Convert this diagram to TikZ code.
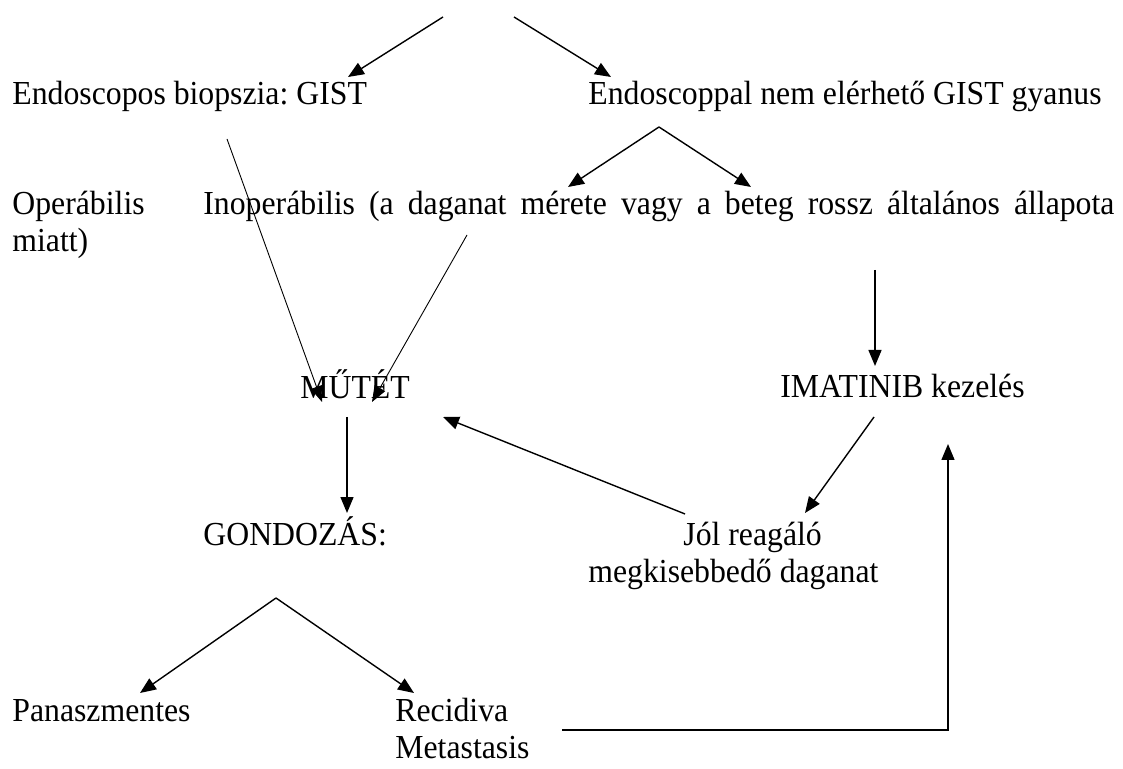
\documentclass[tikz,border=0pt]{standalone}
\usepackage{fontspec}
\setmainfont{Liberation Serif}[FakeStretch=0.945]
\usepackage{tikz}
\usetikzlibrary{arrows.meta}
\usetikzlibrary{positioning}
\frenchspacing

\tikzset{
  lbl/.style={inner sep=0pt, anchor=base west, font=\fontsize{16.8}{18.5}\selectfont},
  arr/.style={-{Triangle[length=8pt,width=6.5pt]}, line width=0.7pt},
  thinarr/.style={-{Triangle[length=8pt,width=6pt]}, line width=0.45pt}
}

\begin{document}
\begin{tikzpicture}[x=0.5pt, y=-0.5pt]
			\useasboundingbox (0, 0) rectangle (1123, 769);
			% texts
			\node[lbl] (biopszia) at (12, 105) {Endoscopos biopszia: GIST};
			\node[lbl] (gyanus) at (588, 105) {Endoscoppal nem elérhető GIST gyanus};
			\node[lbl] (operabilis) at (12, 215) {Operábilis};
			\node[lbl] (inoperabilis) at (203, 215) {\makebox[455.5pt][s]{Inoperábilis (a daganat mérete vagy a beteg rossz általános állapota}};
			\node[lbl] (miatt) at (12, 252) {miatt)};
			\node[lbl] (mutet) at (300, 399) {MŰTÉT};
			\node[lbl] (imatinib) at (780, 398) {IMATINIB kezelés};
			\node[lbl] (gondozas) at (203, 545) {GONDOZÁS:};
			% two-line texts: base is the last line
			\node[lbl, align=left] (reagalo) at (588, 582) {\hspace*{47.5pt}Jól reagáló\\megkisebbedő daganat};
			\node[lbl] (panasz) at (12, 721) {Panaszmentes};
			\node[lbl, align=left] (recidiva) at (395, 758) {Recidiva\\Metastasis};
			% arrow ends
			\coordinate (top1) at (443, 17);
			\coordinate (top2) at (514, 17);
			\coordinate (bio-in) at (348, 77);
			\coordinate (gya-in) at (611, 77);
			\coordinate (bio-out) at (227, 139);
			\coordinate (gya-out) at (659, 127);
			\coordinate (ino-in1) at (568, 187);
			\coordinate (ino-in2) at (751, 187);
			\coordinate (ino-out) at (467, 235);
			\coordinate (ino-down) at (875, 270);
			\coordinate (mut-in1) at (322, 402);
			\coordinate (mut-in2) at (372, 402);
			\coordinate (mut-in3) at (443, 417);
			\coordinate (mut-out) at (347, 417);
			\coordinate (gon-in) at (347, 513);
			\coordinate (ima-in) at (875, 366);
			\coordinate (ima-out) at (874, 417);
			\coordinate (ima-up) at (948, 444);
			\coordinate (rea-in) at (805, 513);
			\coordinate (rea-out) at (685, 514);
			\coordinate (gon-out) at (276, 598);
			\coordinate (pan-in) at (140, 693);
			\coordinate (rec-in) at (414, 693);
			\coordinate (rec-out) at (562, 730);
			% connectors
			\draw[arr] (top1) -- (bio-in);
			\draw[arr] (top2) -- (gya-in);
			\draw[arr] (gya-out) -- (ino-in1);
			\draw[arr] (gya-out) -- (ino-in2);
			\draw[thinarr] (bio-out) -- (mut-in1);
			\draw[thinarr] (ino-out) -- (mut-in2);
			\draw[arr] (ino-down) -- (ima-in);
			\draw[arr] (mut-out) -- (gon-in);
			\draw[arr] (ima-out) -- (rea-in);
			\draw[arr] (rea-out) -- (mut-in3);
			\draw[arr] (gon-out) -- (pan-in);
			\draw[arr] (gon-out) -- (rec-in);
			\draw[arr] (rec-out) -| (ima-up);
		\end{tikzpicture}
\end{document}
